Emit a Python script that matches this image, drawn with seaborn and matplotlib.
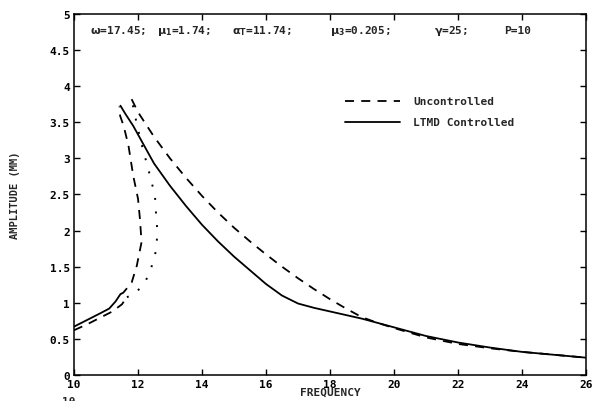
import numpy as np
import pandas as pd
import matplotlib
matplotlib.use("Agg")
import matplotlib.pyplot as plt
import seaborn as sns

# Datos
# LTMD controlado: rama baja, rama alta y rama inestable
ctrl_low_f = [10.0, 10.4, 10.8, 11.1, 11.3, 11.45]
ctrl_low_a = [0.67, 0.76, 0.85, 0.92, 1.02, 1.12]
ctrl_up_f = [11.45, 11.6, 11.85, 12.2, 12.5, 13.0, 13.5, 14.0, 14.5, 15.0, 15.5, 16.0,
             16.5, 17.0, 17.5, 18.0, 19.0, 20.0, 21.0, 22.0, 23.0, 24.0, 25.0, 26.0]
ctrl_up_a = [3.73, 3.62, 3.45, 3.17, 2.93, 2.62, 2.34, 2.08, 1.85, 1.64, 1.45, 1.26,
             1.10, 0.99, 0.93, 0.88, 0.78, 0.66, 0.54, 0.45, 0.38, 0.32, 0.28, 0.24]
ctrl_unst_f = [11.45, 11.54, 11.8, 11.96, 12.11, 12.06, 12.0, 11.85, 11.7, 11.55, 11.44, 11.42]
ctrl_unst_a = [1.12, 1.14, 1.28, 1.51, 1.84, 2.16, 2.44, 2.76, 3.18, 3.45, 3.59, 3.72]

# Sin control
unc_low_f = [10.0, 10.4, 10.8, 11.2, 11.5, 11.65]
unc_low_a = [0.62, 0.70, 0.79, 0.88, 0.98, 1.08]
unc_up_f = [11.8, 12.0, 12.5, 13.0, 13.5, 14.0, 14.5, 15.0, 15.5, 16.0, 16.5, 17.0,
            17.5, 18.0, 18.5, 19.0, 19.5, 20.0, 21.0, 22.0, 23.0, 24.0, 25.0, 26.0]
unc_up_a = [3.82, 3.64, 3.30, 3.00, 2.73, 2.48, 2.25, 2.04, 1.85, 1.67, 1.50, 1.34,
            1.19, 1.05, 0.92, 0.80, 0.72, 0.65, 0.52, 0.43, 0.37, 0.32, 0.28, 0.24]
unc_unst_f = [11.65, 11.85, 12.22, 12.43, 12.58, 12.6, 12.56, 12.53, 12.375, 12.11, 11.95, 11.8]
unc_unst_a = [1.08, 1.10, 1.28, 1.51, 1.75, 2.02, 2.25, 2.48, 2.76, 3.20, 3.50, 3.82]

x_ticks = [10, 12, 14, 16, 18, 20, 22, 24, 26]
y_ticks = [0, 0.5, 1, 1.5, 2, 2.5, 3, 3.5, 4, 4.5, 5]
y_tick_labels = ["0", "0.5", "1", "1.5", "2", "2.5", "3", "3.5", "4", "4.5", "5"]

header_parts = [r"$\omega$=17.45;", r"$\mu_1$=1.74;", r"$\alpha_T$=11.74;",
                r"$\mu_3$=0.205;", r"$\gamma$=25;", "P=10"]
header_x = [10.5, 12.6, 14.95, 18.0, 21.25, 23.45]

sns.set_style("ticks")
plt.rcParams['font.family'] = ['DejaVu Sans Mono', 'DejaVu Sans']
plt.rcParams['font.weight'] = 'bold'
plt.rcParams['mathtext.fontset'] = 'dejavusans'
plt.rcParams['mathtext.default'] = 'bf'

fig = plt.figure(figsize=(5.97, 4.02), dpi=100)
ax = fig.add_axes([0.124, 0.0647, 0.8576, 0.898])

dash = (0, (5, 4))
dot = (0, (1, 6))

# Curvas
sns.lineplot(x=ctrl_low_f, y=ctrl_low_a, sort=False, estimator=None, color="black", lw=1.3, ax=ax)
sns.lineplot(x=ctrl_up_f, y=ctrl_up_a, sort=False, estimator=None, color="black", lw=1.3, ax=ax)
sns.lineplot(x=ctrl_unst_f, y=ctrl_unst_a, sort=False, estimator=None, color="black", lw=1.3, ax=ax,
             linestyle=dash)
sns.lineplot(x=unc_low_f, y=unc_low_a, sort=False, estimator=None, color="black", lw=1.3, ax=ax,
             linestyle=dash)
sns.lineplot(x=unc_up_f, y=unc_up_a, sort=False, estimator=None, color="black", lw=1.3, ax=ax,
             linestyle=dash)
sns.lineplot(x=unc_unst_f, y=unc_unst_a, sort=False, estimator=None, color="black", lw=1.4, ax=ax,
             linestyle=dot)

# Leyenda dibujada a mano
ax.plot([18.47, 20.19], [3.795, 3.795], color="black", lw=1.3, linestyle=dash)
ax.plot([18.47, 20.19], [3.50, 3.50], color="black", lw=1.3)
ax.text(20.6, 3.795, "Uncontrolled", fontsize=8, fontweight="bold", va="center", ha="left")
ax.text(20.6, 3.50, "LTMD Controlled", fontsize=8, fontweight="bold", va="center", ha="left")

for txt, xx in zip(header_parts, header_x):
    ax.text(xx, 4.78, txt, fontsize=8, fontweight="bold", va="center", ha="left")

ax.set_xlim(10, 26)
ax.set_ylim(0, 5)
ax.set_xticks(x_ticks)
ax.set_yticks(y_ticks)
ax.set_yticklabels(y_tick_labels)
ax.tick_params(direction="in", length=4, width=1, top=True, right=True,
               labelsize=8, colors="black", pad=3)
for lab in ax.get_xticklabels() + ax.get_yticklabels():
    lab.set_fontweight("bold")
for sp in ax.spines.values():
    sp.set_visible(True)
    sp.set_linewidth(1.1)
    sp.set_color("black")

ax.set_xlabel("FREQUENCY", fontsize=8, fontweight="bold", labelpad=-2)
ax.set_ylabel("AMPLITUDE (MM)", fontsize=7.5, fontweight="bold")
ax.yaxis.set_label_coords(-0.105, 0.5)

# resto de etiqueta cortada abajo a la izquierda
fig.text(0.104, -0.012, "10", fontsize=8, fontweight="bold", ha="left", va="bottom")

fig.savefig("out.png", dpi=100)
